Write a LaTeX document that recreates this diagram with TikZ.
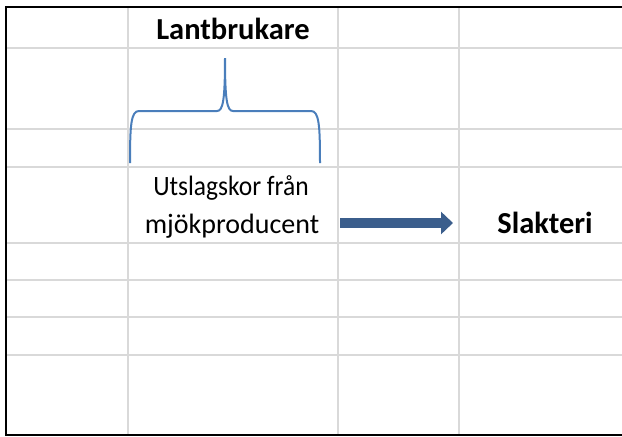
\documentclass[tikz,border=0pt]{standalone}
\usepackage{fontspec}
\setmainfont{Carlito}
\usetikzlibrary{arrows.meta}
\definecolor{gridgray}{HTML}{D9D9D9}
\definecolor{braceblue}{HTML}{4A7EBB}
\definecolor{arrowblue}{HTML}{3B5E8C}
\begin{document}
\begin{tikzpicture}[x=1pt,y=-1pt,
  gridline/.style={draw=gridgray,line width=2.5pt},
  border/.style={draw=black,line width=2.2pt,line join=miter},
  bracepath/.style={draw=braceblue,line width=2pt},
  txt/.style={font=\fontsize{28}{39}\selectfont,inner sep=0pt,anchor=base},
  boldtxt/.style={txt,font=\fontsize{30.5}{39}\selectfont\bfseries},
  blockarrow/.style={draw=arrowblue,line width=10pt,-{Triangle[length=12pt,width=22pt]}}]
\useasboundingbox (0,0) rectangle (622,437);
% grid
\foreach \y in {48,129,167,243,280,317,355} \draw[gridline] (6,\y) -- (622,\y);
\foreach \x in {128,338,459} \draw[gridline] (\x,7) -- (\x,435);
% border
\draw[border] (622,7) -- (6,7) -- (6,435) -- (622,435);
% brace
\draw[bracepath] (130,163) .. controls (130,125) and (131,111) .. (139,111) -- (217,111)
  .. controls (223,111) and (225,100) .. (225,58)
  .. controls (225,100) and (227,111) .. (233,111) -- (311,111)
  .. controls (319,111) and (320,125) .. (320,163);
% texts
\node[boldtxt] (lant) at (233,39) {Lantbrukare};
\node[txt] (utsl1) at (231,195) {\scalebox{0.91}[1]{Utslagskor från}};
\node[txt] (utsl2) at (232,233) {mjökproducent};
\node[boldtxt] (slak) at (545,233) {Slakteri};
% arrow
\coordinate (arrS) at (340,223);
\coordinate (arrE) at (453,223);
\draw[blockarrow] (arrS) -- (arrE);
\end{tikzpicture}
\end{document}
